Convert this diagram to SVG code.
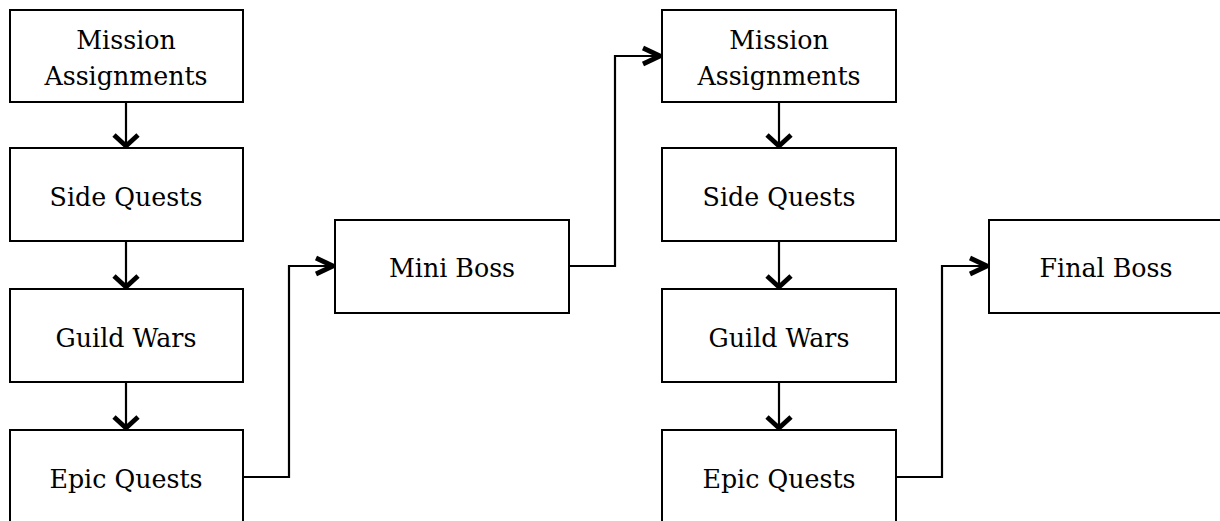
<svg xmlns="http://www.w3.org/2000/svg" width="1220" height="521" viewBox="0 0 1220 521">
<style>
.box{fill:#fff;stroke:#000;stroke-width:2}
.lbl{font-family:"DejaVu Serif","Liberation Serif",serif;font-size:25.3px;fill:#000;text-anchor:middle}
.c{fill:none;stroke:#000;stroke-width:2.2}
</style>
<defs>
<marker id="av" markerUnits="userSpaceOnUse" viewBox="-30 -30 60 60" markerWidth="60" markerHeight="60" refX="2" refY="0" orient="auto">
<path d="M-11,-12 L0,0 L-11,12" fill="none" stroke="#000" stroke-width="4.8"/>
</marker>
<marker id="ah" markerUnits="userSpaceOnUse" viewBox="-30 -30 60 60" markerWidth="60" markerHeight="60" refX="2" refY="0" orient="auto">
<path d="M-17,-8 L0,0 L-17,8" fill="none" stroke="#000" stroke-width="4.8"/>
</marker>
</defs>
<g id="connectors">
<path class="c" d="M126,102 V148" marker-end="url(#av)"/>
<path class="c" d="M126,241 V289" marker-end="url(#av)"/>
<path class="c" d="M126,382 V430" marker-end="url(#av)"/>
<path class="c" d="M243,477 H289 V266 H335" marker-end="url(#ah)"/>
<path class="c" d="M569,266 H615 V56 H662" marker-end="url(#ah)"/>
<path class="c" d="M779,102 V148" marker-end="url(#av)"/>
<path class="c" d="M779,241 V289" marker-end="url(#av)"/>
<path class="c" d="M779,382 V430" marker-end="url(#av)"/>
<path class="c" d="M896,477 H942 V266 H989" marker-end="url(#ah)"/>
</g>
<g id="n1"><rect class="box" x="10" y="10" width="233" height="92"/><text class="lbl" x="126" y="49">Mission</text><text class="lbl" x="126" y="85">Assignments</text></g>
<g id="n2"><rect class="box" x="10" y="148" width="233" height="93"/><text class="lbl" x="126" y="206">Side Quests</text></g>
<g id="n3"><rect class="box" x="10" y="289" width="233" height="93"/><text class="lbl" x="126" y="347">Guild Wars</text></g>
<g id="n4"><rect class="box" x="10" y="430" width="233" height="93"/><text class="lbl" x="126" y="488">Epic Quests</text></g>
<g id="n5"><rect class="box" x="335" y="220" width="234" height="93"/><text class="lbl" x="452" y="277">Mini Boss</text></g>
<g id="n6"><rect class="box" x="662" y="10" width="234" height="92"/><text class="lbl" x="779" y="49">Mission</text><text class="lbl" x="779" y="85">Assignments</text></g>
<g id="n7"><rect class="box" x="662" y="148" width="234" height="93"/><text class="lbl" x="779" y="206">Side Quests</text></g>
<g id="n8"><rect class="box" x="662" y="289" width="234" height="93"/><text class="lbl" x="779" y="347">Guild Wars</text></g>
<g id="n9"><rect class="box" x="662" y="430" width="234" height="93"/><text class="lbl" x="779" y="488">Epic Quests</text></g>
<g id="n10"><rect class="box" x="989" y="220" width="234" height="93"/><text class="lbl" x="1106" y="277">Final Boss</text></g>
</svg>
